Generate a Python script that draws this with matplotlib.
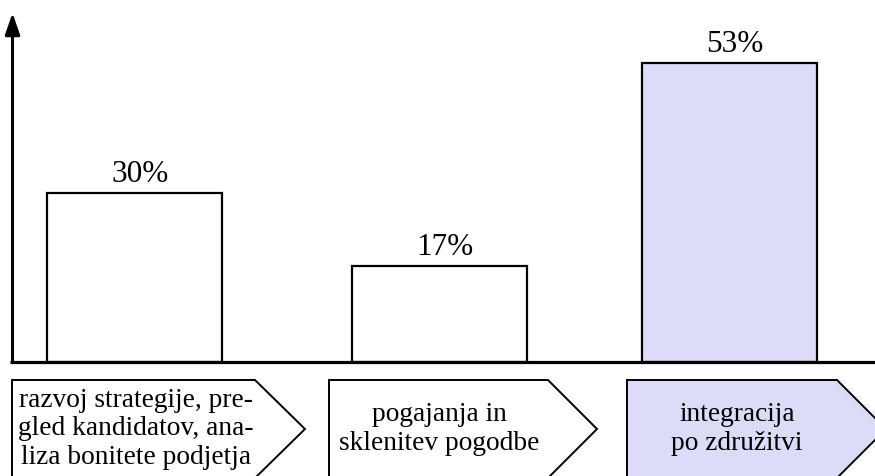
import matplotlib.pyplot as plt
from matplotlib.patches import Polygon

plt.rcParams['font.family'] = ['Liberation Serif', 'DejaVu Serif']

# phase shares in percent
phases = ['razvoj strategije, pre-\ngled kandidatov, ana-\nliza bonitete podjetja',
          'pogajanja in\nsklenitev pogodbe',
          'integracija\npo združitvi']
shares = [30, 17, 53]
labels = ['30%', '17%', '53%']

W, H = 875, 477
base_px = 363          # baseline height from top, pixels
px_per_unit = 5.65
centers = [134, 439, 729]
bar_w = 175
lavender = '#dcdcf8'
fills = ['white', 'white', lavender]

fig = plt.figure(figsize=(W / 100, H / 100), dpi=100)

# bars
ax = fig.add_axes([0, (H - base_px) / H, 1, base_px / H])
ax.set_xlim(0, W)
ax.set_ylim(0, base_px / px_per_unit)
ax.axis('off')
ax.bar(centers, shares, width=bar_w, color=fills, edgecolor='black', linewidth=1.6)
for c, v, t in zip(centers, shares, labels):
    ax.annotate(t, (c + 6, v), xytext=(0, 8.5), textcoords='offset points',
                ha='center', va='baseline', fontsize=22.5)

# overlay in pixel coordinates for axis arrow and phase arrows
ov = fig.add_axes([0, 0, 1, 1])
ov.set_xlim(0, W)
ov.set_ylim(H, 0)
ov.axis('off')
ov.plot([10, W], [base_px, base_px], color='black', lw=2.3, solid_capstyle='butt')
ov.annotate('', xy=(12.5, 14), xytext=(12.5, base_px),
            arrowprops=dict(arrowstyle='-|>,head_length=1.3,head_width=0.45',
                            color='black', lw=2.2, shrinkA=0, shrinkB=0))

boxes = [(12, 255, 305), (329, 548, 597), (627, 837, 886)]
text_x = [136, 439, 737]
top, mid, bot = 381, 430, 479
for (x0, x1, tip), tx, txt, fc in zip(boxes, text_x, phases, fills):
    poly = Polygon([(x0, bot), (x0, top), (x1, top), (tip, mid), (x1, bot)],
                   closed=True, facecolor=fc, edgecolor='black', lw=1.4)
    ov.add_patch(poly)
    ov.text(tx, 429, txt, ha='center', va='center', fontsize=19.7, linespacing=1.2)

fig.savefig('out.png', dpi=100)
